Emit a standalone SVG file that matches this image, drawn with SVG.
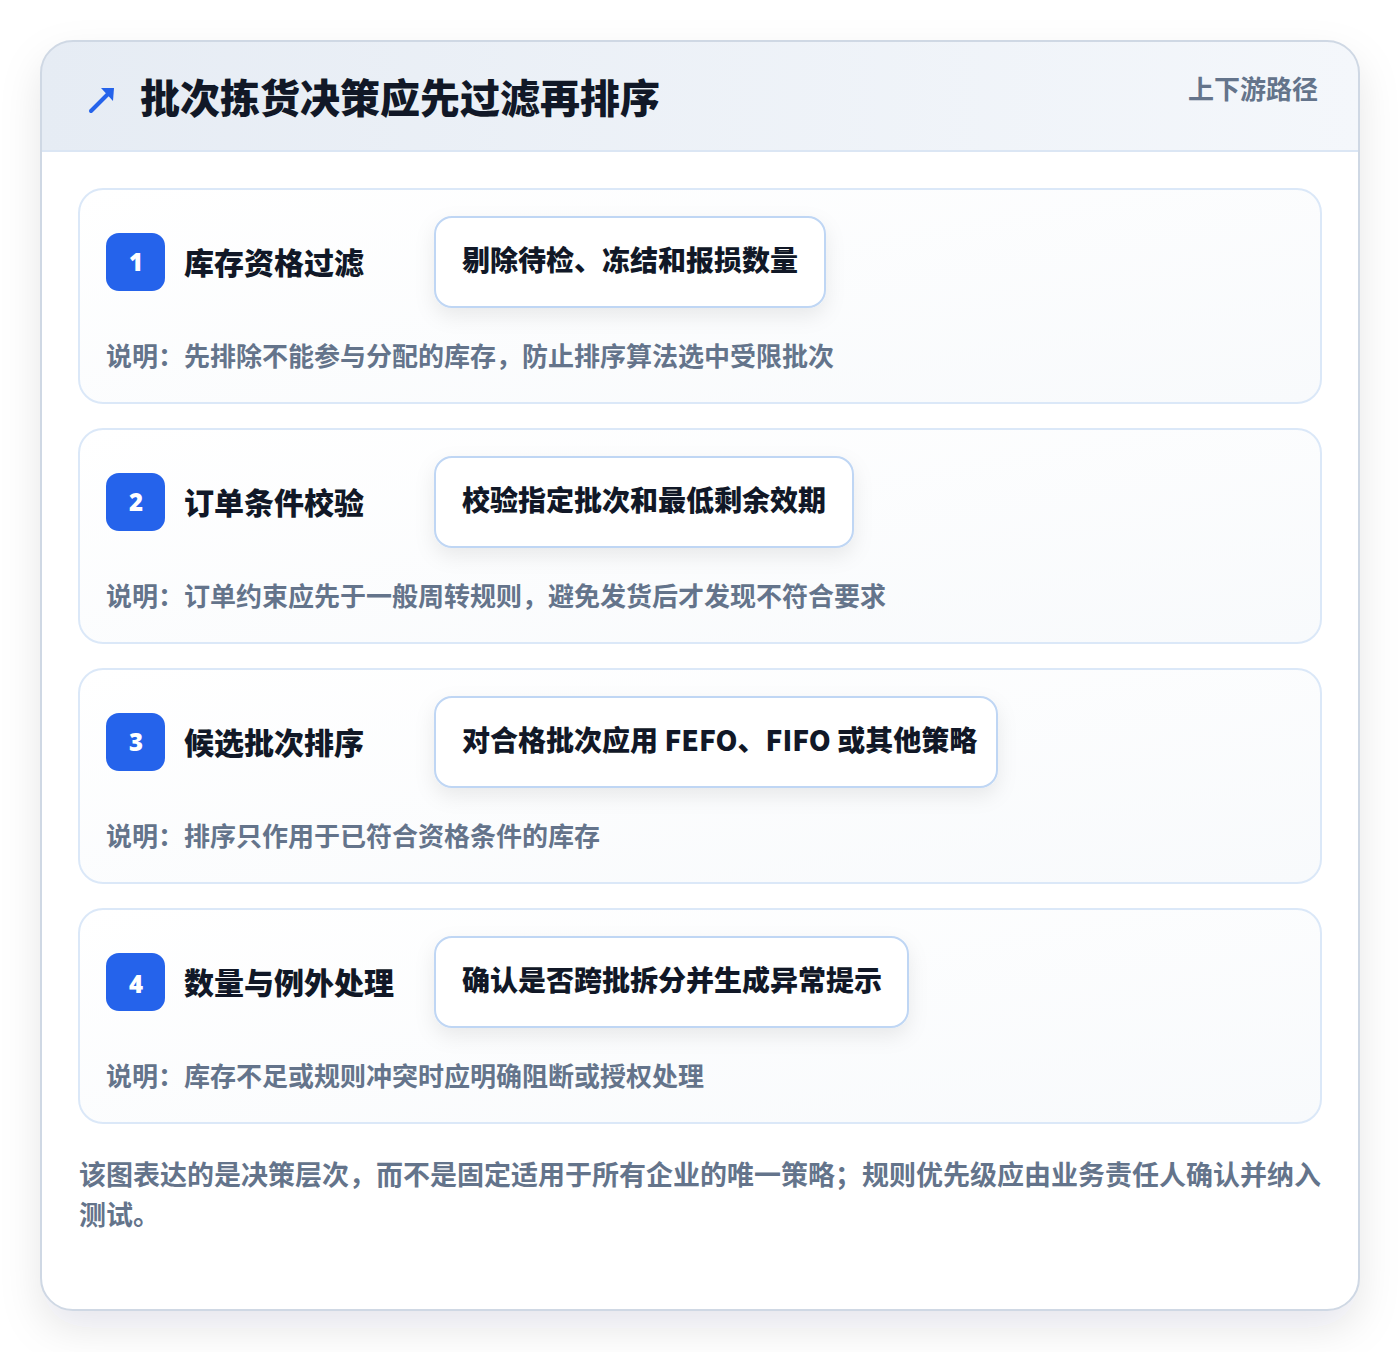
<svg xmlns="http://www.w3.org/2000/svg" width="1400" height="1352" viewBox="0 0 1400 1352">
<style>
.cjk{font-family:"Noto Sans CJK SC","Noto Sans",sans-serif}
.title{font-size:40px;font-weight:900;fill:#111827}
.tag{font-size:26px;font-weight:700;fill:#64748b}
.row{fill:url(#rowg);stroke:#dbe8f8;stroke-width:2}
.badge{fill:#2563eb}
.num{font-family:"Noto Sans","DejaVu Sans",sans-serif;font-size:24px;font-weight:900;fill:#ffffff}
.step{font-size:30px;font-weight:900;fill:#111827}
.pill{fill:#ffffff;stroke:#bfd6f4;stroke-width:2}
.pilltext{font-size:28px;font-weight:900;fill:#111827}
.desc{font-size:26px;font-weight:700;fill:#64748b}
.foot{font-size:27px;font-weight:700;fill:#64748b}
</style>
<defs>
<linearGradient id="hdr" x1="0" y1="0" x2="1" y2="0">
<stop offset="0" stop-color="#e6ecf4"/>
<stop offset="1" stop-color="#f4f7fb"/>
</linearGradient>
<linearGradient id="rowg" x1="0" y1="0" x2="1" y2="1">
<stop offset="0" stop-color="#ffffff"/>
<stop offset="1" stop-color="#f8fafc"/>
</linearGradient>
<filter id="cardsh" x="-10%" y="-10%" width="120%" height="120%">
<feDropShadow dx="0" dy="18" stdDeviation="20" flood-color="#0f172a" flood-opacity="0.10"/>
</filter>
<filter id="pillsh" x="-20%" y="-40%" width="140%" height="200%">
<feDropShadow dx="0" dy="8" stdDeviation="10" flood-color="#0f172a" flood-opacity="0.08"/>
</filter>
<clipPath id="cardclip"><rect x="41" y="41" width="1318" height="1269" rx="32"/></clipPath>
</defs>
<rect width="1400" height="1352" fill="#ffffff"/>
<g id="card">
<rect x="41" y="41" width="1318" height="1269" rx="32" fill="#ffffff" filter="url(#cardsh)"/>
<g clip-path="url(#cardclip)">
<rect x="41" y="41" width="1318" height="110" fill="url(#hdr)"/>
<line x1="41" y1="151" x2="1359" y2="151" stroke="#dbe6f4" stroke-width="2"/>
</g>
<rect x="41" y="41" width="1318" height="1269" rx="32" fill="none" stroke="#cfd8e4" stroke-width="2"/>
</g>
<g id="header">
<path d="M91,111 L110,92" stroke="#2563eb" stroke-width="4" stroke-linecap="round" fill="none"/>
<path d="M101,88 L114,88 L113,101 Z" fill="#2563eb"/>
<text class="cjk title" x="140" y="113">批次拣货决策应先过滤再排序</text>
<text class="cjk tag" x="1318" y="99" text-anchor="end">上下游路径</text>
</g>
<g id="step1">
<rect class="row" x="79" y="189" width="1242" height="214" rx="24"/>
<rect class="badge" x="106" y="233" width="59" height="58" rx="13"/>
<text class="num" x="136" y="271" text-anchor="middle">1</text>
<text class="cjk step" x="184" y="274">库存资格过滤</text>
<rect class="pill" x="435" y="217" width="390" height="90" rx="17" filter="url(#pillsh)"/>
<text class="cjk pilltext" x="462" y="271">剔除待检、冻结和报损数量</text>
<text class="cjk desc" x="106" y="366">说明：先排除不能参与分配的库存，防止排序算法选中受限批次</text>
</g>
<g id="step2">
<rect class="row" x="79" y="429" width="1242" height="214" rx="24"/>
<rect class="badge" x="106" y="473" width="59" height="58" rx="13"/>
<text class="num" x="136" y="511" text-anchor="middle">2</text>
<text class="cjk step" x="184" y="514">订单条件校验</text>
<rect class="pill" x="435" y="457" width="418" height="90" rx="17" filter="url(#pillsh)"/>
<text class="cjk pilltext" x="462" y="511">校验指定批次和最低剩余效期</text>
<text class="cjk desc" x="106" y="606">说明：订单约束应先于一般周转规则，避免发货后才发现不符合要求</text>
</g>
<g id="step3">
<rect class="row" x="79" y="669" width="1242" height="214" rx="24"/>
<rect class="badge" x="106" y="713" width="59" height="58" rx="13"/>
<text class="num" x="136" y="751" text-anchor="middle">3</text>
<text class="cjk step" x="184" y="754">候选批次排序</text>
<rect class="pill" x="435" y="697" width="562" height="90" rx="17" filter="url(#pillsh)"/>
<text class="cjk pilltext" x="462" y="751">对合格批次应用 FEFO、FIFO 或其他策略</text>
<text class="cjk desc" x="106" y="846">说明：排序只作用于已符合资格条件的库存</text>
</g>
<g id="step4">
<rect class="row" x="79" y="909" width="1242" height="214" rx="24"/>
<rect class="badge" x="106" y="953" width="59" height="58" rx="13"/>
<text class="num" x="136" y="993" text-anchor="middle">4</text>
<text class="cjk step" x="184" y="994">数量与例外处理</text>
<rect class="pill" x="435" y="937" width="473" height="90" rx="17" filter="url(#pillsh)"/>
<text class="cjk pilltext" x="462" y="991">确认是否跨批拆分并生成异常提示</text>
<text class="cjk desc" x="106" y="1086">说明：库存不足或规则冲突时应明确阻断或授权处理</text>
</g>
<g id="connectors"></g>
<g id="footer">
<text class="cjk foot" x="79" y="1185">该图表达的是决策层次，而不是固定适用于所有企业的唯一策略；规则优先级应由业务责任人确认并纳入</text>
<text class="cjk foot" x="79" y="1225">测试。</text>
</g>
</svg>
